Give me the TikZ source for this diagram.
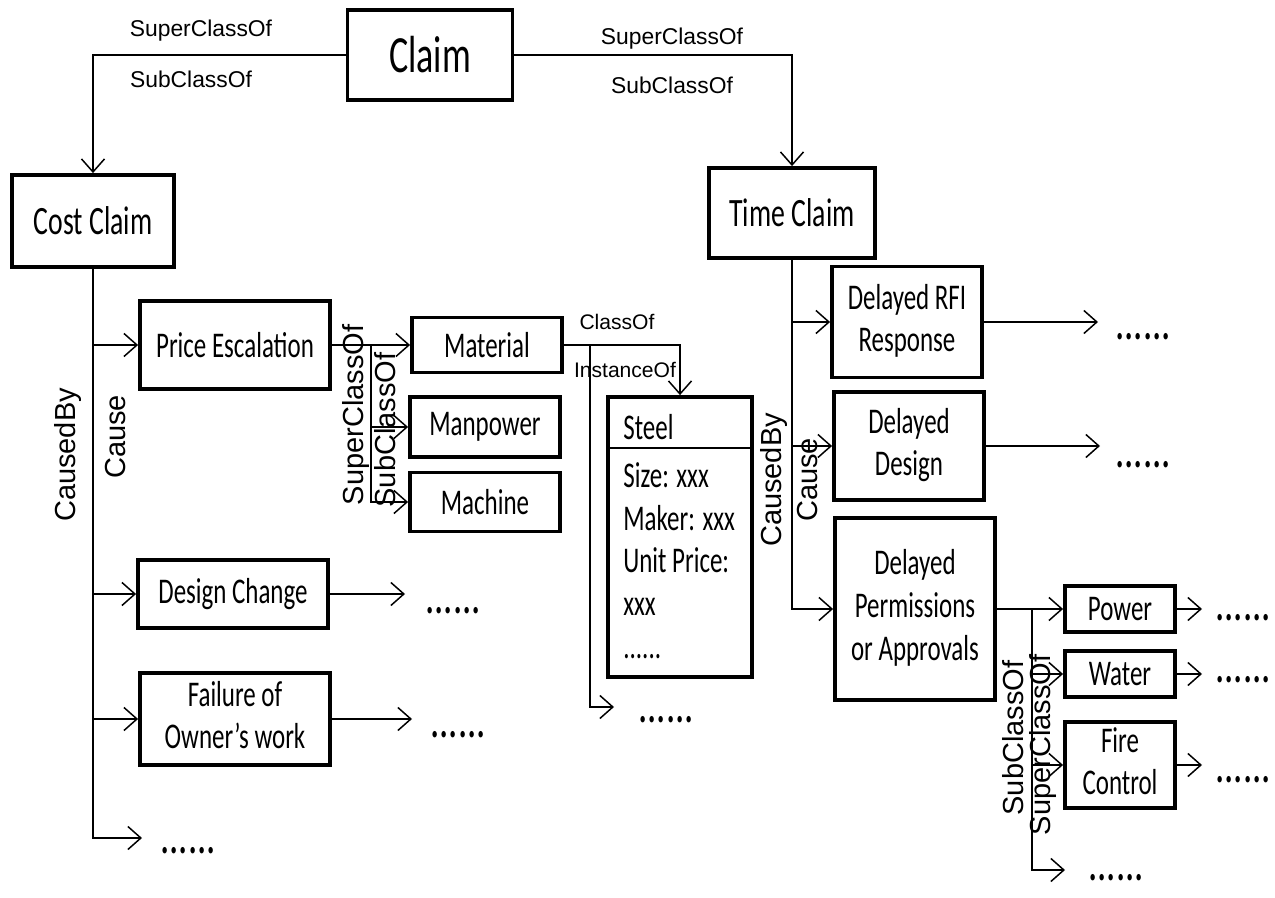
\documentclass[tikz,border=0pt]{standalone}
\usepackage{fontspec}
\usepackage{graphicx}
\setmainfont{Carlito}
\newfontfamily\relfont{Liberation Sans}
\usetikzlibrary{arrows.meta}
\newcommand{\vstr}[1]{\scalebox{1}[1.45]{#1}}
\newcommand{\boxtext}[1]{\vstr{\begin{tabular}{@{}c@{}}#1\end{tabular}}}
\newcommand{\listtext}[1]{\vstr{\begin{tabular}{@{}l@{}}#1\end{tabular}}}

\begin{document}
\begin{tikzpicture}[x=0.02cm,y=-0.02cm,
    box/.style={draw,line width=2.2pt,inner sep=0pt,font=\fontsize{14.2}{16.8}\selectfont},
    rel/.style={font=\relfont\fontsize{13}{15}\selectfont,inner sep=1pt},
    smallrel/.style={rel,font=\relfont\fontsize{12}{14}\selectfont},
    vrel/.style={font=\relfont\fontsize{16.5}{18}\selectfont,rotate=90,inner sep=1pt},
    more/.style={font=\fontsize{21}{21}\selectfont,anchor=base west,inner sep=0pt},
    link/.style={line width=0.85pt},
    arr/.style={link,-{Straight Barb[length=0.26cm,width=0.46cm]}}
                   ]

    \useasboundingbox (0,0) rectangle (1275,898);

    \node[box,minimum width=3.3cm,minimum height=1.8cm,font=\fontsize{20.5}{24}\selectfont](claim) at (430,55) {\vstr{Claim}};
    \node[box,minimum width=3.24cm,minimum height=1.84cm,font=\fontsize{15.8}{18}\selectfont](cost) at (93,221) {\vstr{Cost Claim}};
    \node[box,minimum width=3.32cm,minimum height=1.8cm,font=\fontsize{15.8}{18}\selectfont](time) at (792,213) {\vstr{Time Claim}};

    \node[box,minimum width=3.8cm,minimum height=1.76cm](pesc) at (235,345) {\vstr{Price Escalation}};
    \node[box,minimum width=3cm,minimum height=1.1cm](material) at (487,345) {\vstr{Material}};
    \node[box,minimum width=3cm,minimum height=1.2cm](manpower) at (485,427) {\vstr{Manpower}};
    \node[box,minimum width=3cm,minimum height=1.18cm](machine) at (485,502) {\vstr{Machine}};
    \node[box,minimum width=3.8cm,minimum height=1.36cm](dchange) at (233,594) {\vstr{Design Change}};
    \node[box,minimum width=3.8cm,minimum height=1.84cm](failure) at (235,719) {\boxtext{Failure of\\Owner’s work}};

    \node[box,minimum width=2.88cm,minimum height=5.6cm](steel) at (680,537) {};
    \coordinate (steeldiv) at (680,448);
    \draw[line width=1.3pt] (steel.west |- steeldiv) -- (steel.east |- steeldiv);
    \node[anchor=west,inner sep=0pt,font=\fontsize{14.2}{16.8}\selectfont](steelname) at (623,427) {\vstr{Steel}};
    \node[anchor=north west,inner sep=0pt,font=\fontsize{14.2}{16.8}\selectfont](steelattr) at (623,457) {\listtext{Size: xxx\\Maker: xxx\\Unit Price:\\xxx\\......}};

    \node[box,minimum width=3cm,minimum height=2.22cm](rfi) at (907,322) {\boxtext{Delayed RFI\\Response}};
    \node[box,minimum width=3cm,minimum height=2.16cm](ddesign) at (909,446) {\boxtext{Delayed\\Design}};
    \node[box,minimum width=3.2cm,minimum height=3.64cm](perm) at (915,609) {\boxtext{Delayed\\Permissions\\or Approvals}};
    \node[box,minimum width=2.2cm,minimum height=0.92cm](power) at (1120,609) {\vstr{Power}};
    \node[box,minimum width=2.2cm,minimum height=0.92cm](water) at (1120,674) {\vstr{Water}};
    \node[box,minimum width=2.2cm,minimum height=1.72cm](fire) at (1120,765) {\boxtext{Fire\\Control}};

    \draw[arr] (claim.west) -| (cost.north);
    \draw[arr] (claim.east) -| (time.north);
    \node[rel](lsup) at (201,31) {SuperClassOf};
    \node[rel](lsub) at (191,79) {SubClassOf};
    \node[rel](rsup) at (672,39) {SuperClassOf};
    \node[rel](rsub) at (672,85) {SubClassOf};

    \coordinate (ctip) at (142,838);
    \draw[arr] (cost.south) |- (ctip);
    \draw[arr] (cost.south |- pesc.west) -- (pesc.west);
    \draw[arr] (cost.south |- dchange.west) -- (dchange.west);
    \draw[arr] (cost.south |- failure.west) -- (failure.west);
    \node[vrel](lcausedby) at (68,455) {CausedBy};
    \node[vrel](lcause) at (116,437) {Cause};
    \node[more](cmore) at (160,853) {\vstr{......}};

    \coordinate (pbr) at (371,345);
    \draw[arr] (pesc) -- (material);
    \draw[arr] (pbr) |- (machine.west);
    \draw[arr] (pbr |- manpower.west) -- (manpower.west);
    \node[vrel](psup) at (356,415) {SuperClassOf};
    \node[vrel](psub) at (385,430) {SubClassOf};

    \coordinate (ibr) at (590,707);
    \coordinate (itip) at (614,707);
    \draw[arr] (material.east) -| (steel.north);
    \draw[arr] (material.east -| ibr) -- (ibr) -- (itip);
    \node[smallrel](lclassof) at (617,322) {ClassOf};
    \node[smallrel](linstof) at (625,370) {InstanceOf};
    \node[more](imore) at (638,722) {\vstr{......}};

    \coordinate (dctip) at (405,594);
    \draw[arr] (dchange) -- (dctip);
    \node[more](dcmore) at (425,613) {\vstr{......}};
    \coordinate (fatip) at (412,719);
    \draw[arr] (failure) -- (fatip);
    \node[more](famore) at (430,737) {\vstr{......}};

    \draw[arr] (time.south) |- (perm.west);
    \draw[arr] (time.south |- rfi.west) -- (rfi.west);
    \draw[arr] (time.south |- ddesign.west) -- (ddesign.west);
    \node[vrel](tcausedby) at (774,480) {CausedBy};
    \node[vrel](tcause) at (808,480) {Cause};

    \coordinate (rtip) at (1098,322);
    \draw[arr] (rfi) -- (rtip);
    \node[more](rmore) at (1115,340) {\vstr{......}};
    \coordinate (ddtip) at (1100,446);
    \draw[arr] (ddesign) -- (ddtip);
    \node[more](ddmore) at (1115,468) {\vstr{......}};

    \coordinate (qbr) at (1032,870);
    \coordinate (qtip) at (1065,870);
    \draw[arr] (perm) -- (power);
    \draw[arr] (perm.east -| qbr) -- (qbr) -- (qtip);
    \draw[arr] (qbr |- water.west) -- (water.west);
    \draw[arr] (qbr |- fire.west) -- (fire.west);
    \node[vrel](qsub) at (1013,738) {SubClassOf};
    \node[vrel](qsup) at (1043,745) {SuperClassOf};
    \node[more](qmore) at (1088,880) {\vstr{......}};

    \coordinate (potip) at (1202,609);
    \draw[arr] (power) -- (potip);
    \node[more](pomore) at (1215,620) {\vstr{......}};
    \coordinate (watip) at (1202,674);
    \draw[arr] (water) -- (watip);
    \node[more](wamore) at (1215,682) {\vstr{......}};
    \coordinate (fitip) at (1202,765);
    \draw[arr] (fire) -- (fitip);
    \node[more](fimore) at (1215,782) {\vstr{......}};

\end{tikzpicture}
\end{document}
